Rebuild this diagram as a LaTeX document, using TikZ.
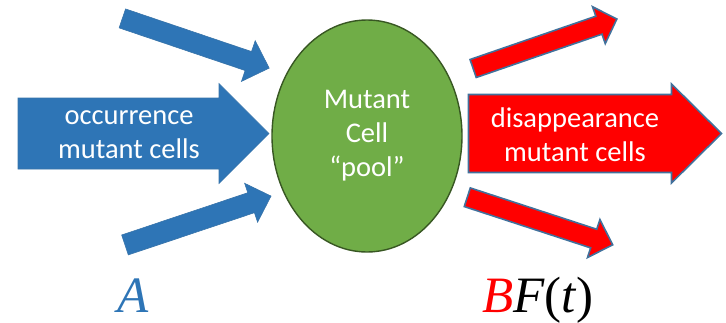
\documentclass[tikz,border=0pt]{standalone}
\usepackage{fontspec}
\setmainfont{Carlito}
\newfontfamily\labelfont{Liberation Serif}
\usetikzlibrary{shapes.geometric}
\definecolor{incol}{RGB}{46,117,182}
\definecolor{inedge}{RGB}{65,113,156}
\definecolor{poolcol}{RGB}{112,173,71}
\definecolor{pooledge}{RGB}{56,87,35}
\definecolor{outcol}{RGB}{255,0,0}

\begin{document}
\begin{tikzpicture}[x=1pt, y=-1pt,
  pics/flowarrow/.style n args={4}{code={% length, shaft, head width, head length
    \path[pic actions] (-#1/2,-#2/2) -- (#1/2-#4,-#2/2) -- (#1/2-#4,-#3/2) -- (#1/2,0)
      -- (#1/2-#4,#3/2) -- (#1/2-#4,#2/2) -- (-#1/2,#2/2) -- cycle;}},
  inarrow/.style={fill=incol, draw=inedge!50!incol, line width=0.6pt, line join=miter},
  outarrow/.style={fill=outcol, draw=inedge, line width=1.6pt, line join=miter},
  flowtext/.style={text=white, align=center, font=\fontsize{28.5}{34}\selectfont}]
\useasboundingbox (0,0) rectangle (726,322);

% inflow to the pool
\pic[inarrow, rotate=-18.7] (intop) at (195.75,43.25) {flowarrow={155}{20}{43}{22}};
\pic[inarrow] (inmain) at (143.5,133.5) {flowarrow={251}{71}{100}{50}};
\pic[inarrow, rotate=18.5] (inbot) at (198,220.5) {flowarrow={154}{21}{41}{21}};
\node[flowtext] (intext) at (129,135) {occurrence\\mutant cells};

% outflow from the pool
\pic[outarrow, rotate=19] (outtop) at (545,43.75) {flowarrow={152}{19}{39}{19}};
\pic[outarrow] (outmain) at (595,133.5) {flowarrow={253}{78}{99}{50}};
\pic[outarrow, rotate=-18.1] (outbot) at (540,221) {flowarrow={153}{19.6}{40}{20}};
\node[flowtext] (outtext) at (575,135) {disappearance\\mutant cells};

% the pool
\node[ellipse, minimum width=190pt, minimum height=232pt, fill=poolcol, draw=pooledge,
      line width=1.4pt, flowtext] (pool) at (367,136) {Mutant\\Cell\\“pool”};

% rates
\node[anchor=base, inner sep=0pt, text=incol, font=\labelfont\itshape\fontsize{51}{51}\selectfont]
      (rateA) at (133,312) {A};
\node[anchor=base, inner sep=0pt, font=\labelfont\fontsize{51}{51}\selectfont]
      (rateB) at (538,312) {\textit{\color{outcol}B}\textit{F}(\textit{t})};
\end{tikzpicture}
\end{document}
